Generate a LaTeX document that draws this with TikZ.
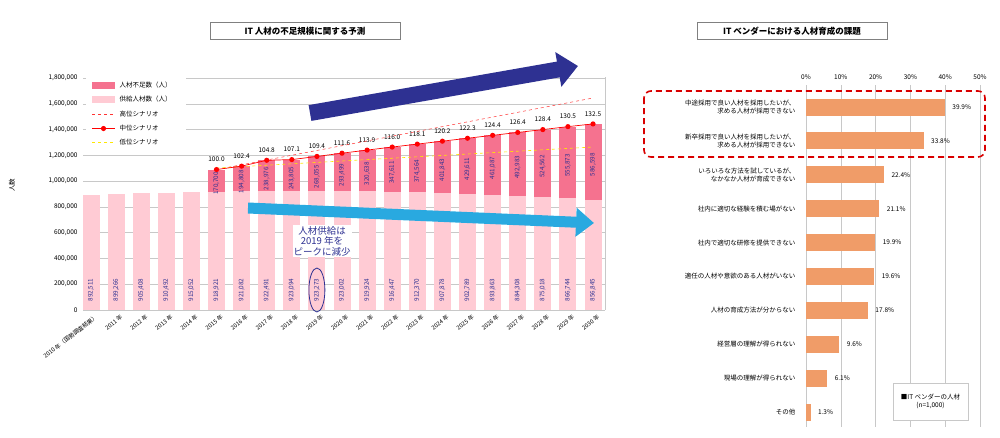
\documentclass[tikz,border=0pt]{standalone}
\usepackage{fontspec}
\setmainfont{Noto Sans CJK JP}
\usetikzlibrary{arrows.meta,calc}
\definecolor{short}{HTML}{F5728F}
\definecolor{supp}{HTML}{FFCBD4}
\definecolor{navy}{HTML}{2E3192}
\definecolor{lblue}{HTML}{29A9E0}
\definecolor{lab}{HTML}{2E3192}
\definecolor{orng}{HTML}{F09C68}
\definecolor{grid}{HTML}{C8C8C8}
\tikzset{tiny/.style={font=\fontsize{6.5}{7.5}\selectfont},
 vlab/.style={font=\fontsize{6.3}{7}\selectfont,text=lab,rotate=90,inner sep=0},
 ttl/.style={draw=gray,line width=0.6pt,font=\fontsize{8.5}{9}\selectfont\bfseries,inner sep=3pt,minimum width=190pt,minimum height=17pt}}
\begin{document}
\begin{tikzpicture}[x=1pt,y=-1pt]
\useasboundingbox[fill=white] (0,0) rectangle (1000,437);
% titles
\node[ttl] (t1) at (305,31) {IT 人材の不足規模に関する予測};
\node[ttl] (t2) at (792,31) {IT ベンダーにおける人材育成の課題};
% left grid
\foreach \k/\t in {0/0,200/{200,000},400/{400,000},600/{600,000},800/{800,000},1000/{1,000,000},1200/{1,200,000},1400/{1,400,000},1600/{1,600,000},1800/{1,800,000}}{
 \draw[grid,line width=0.5pt] (83,{310-\k*0.1289}) -- (605,{310-\k*0.1289});
 \node[tiny,anchor=east] (yt\k) at (81,{310-\k*0.1289}) {\t};}
\draw[grid] (605,77) -- (605,310);
\node[tiny,rotate=90] (ylab) at (12,185) {人数};
% supply bars
\foreach \i/\s/\st/\yl in {0/892.511/{892,511}/{2010 年（国勢調査結果）},1/899.266/{899,266}/2011 年,2/905.408/{905,408}/2012 年,3/910.492/{910,492}/2013 年,4/915.052/{915,052}/2014 年,5/918.921/{918,921}/2015 年,6/921.082/{921,082}/2016 年,7/922.491/{922,491}/2017 年,8/923.094/{923,094}/2018 年,9/923.273/{923,273}/2019 年,10/923.002/{923,002}/2020 年,11/919.924/{919,924}/2021 年,12/916.447/{916,447}/2022 年,13/912.370/{912,370}/2023 年,14/907.878/{907,878}/2024 年,15/902.789/{902,789}/2025 年,16/893.863/{893,863}/2026 年,17/884.308/{884,308}/2027 年,18/875.018/{875,018}/2028 年,19/866.744/{866,744}/2029 年,20/856.845/{856,845}/2030 年}{
 \pgfmathsetmacro\xc{91+25.1*\i}
 \fill[supp] (\xc-8.5,310) rectangle (\xc+8.5,{310-\s*0.1289});
 \node[vlab] (s\i) at (\xc,290) {\st};
 \node[font=\fontsize{5.8}{6.5}\selectfont,rotate=38,anchor=north east,inner sep=0.5pt] (xl\i) at (\xc+4,313) {\yl};}
\draw[grid] (83,310) -- (605,310);
% shortage bars
\foreach \i/\s/\d/\dt/\ix in {5/918.921/170.700/{170,700}/100.0,6/921.082/194.808/{194,808}/102.4,7/922.491/238.976/{238,976}/104.8,8/923.094/243.805/{243,805}/107.1,9/923.273/268.055/{268,055}/109.4,10/923.002/293.499/{293,499}/111.6,11/919.924/320.638/{320,638}/113.9,12/916.447/347.611/{347,611}/116.0,13/912.370/374.564/{374,564}/118.1,14/907.878/401.843/{401,843}/120.2,15/902.789/429.611/{429,611}/122.3,16/893.863/461.087/{461,087}/124.4,17/884.308/492.983/{492,983}/126.4,18/875.018/524.562/{524,562}/128.4,19/866.744/555.873/{555,873}/130.5,20/856.845/586.598/{586,598}/132.5}{
 \pgfmathsetmacro\xc{91+25.1*\i}
 \pgfmathsetmacro\yb{310-\s*0.1289}
 \pgfmathsetmacro\yt{310-(\s+\d)*0.1289}
 \fill[short] (\xc-8.5,\yb) rectangle (\xc+8.5,\yt);
 \node[vlab] (d\i) at (\xc,{(\yb+\yt)/2+3}) {\dt};
 \coordinate (m\i) at (\xc,\yt);
 \node[tiny,inner sep=1pt] (ix\i) at (\xc,\yt-10) {\ix};}
% scenarios
\coordinate (h2) at (593,98);
\coordinate (l1) at (216.5,168);
\coordinate (l2) at (593,147);
\draw[red!80,dashed,line width=0.5pt] (m5) -- (h2);
\draw[yellow!90!orange,dashed,line width=0.6pt] (l1) -- (l2);
\draw[red,line width=0.7pt] (m5) \foreach \j in {6,...,20}{ -- (m\j)};
\foreach \j in {5,...,20}{\fill[red] (m\j) circle (2.6);}
% legend
\fill[white] (86,77) rectangle (186,147);
\fill[short] (92,82) rectangle (115,89);
\node[tiny,anchor=west] (lg1) at (116,85.5) {人材不足数（人）};
\fill[supp] (92,96) rectangle (115,103);
\node[tiny,anchor=west] (lg2) at (116,99.5) {供給人材数（人）};
\draw[red!80,dashed] (92,114) -- (115,114);
\node[tiny,anchor=west] (lg3) at (116,114) {高位シナリオ};
\draw[red,line width=0.7pt] (92,128.5) -- (115,128.5);
\fill[red] (103.5,128.5) circle (2.6);
\node[tiny,anchor=west] (lg4) at (116,128.5) {中位シナリオ};
\draw[yellow!90!orange,dashed,line width=0.6pt] (92,142) -- (115,142);
\node[tiny,anchor=west] (lg5) at (116,142) {低位シナリオ};
% arrows
\coordinate (a1) at (310,113);
\coordinate (a2) at (578,66);
\draw[navy,line width=16pt,-{Triangle[length=20pt,width=34pt]}] (a1) -- (a2);
\coordinate (b1) at (248,208);
\coordinate (b2) at (594,223);
\draw[lblue,line width=11pt,-{Triangle[length=18pt,width=28pt]}] (b1) -- (b2);
\node[fill=white,inner sep=1pt,text=navy,align=center,font=\fontsize{9.5}{10.5}\selectfont] (call) at (322,241) {人材供給は\\2019 年を\\ピークに減少};
\draw[navy,line width=0.8pt] (s9) ellipse (8 and 22);
% right chart
\foreach \p in {0,10,20,30,40,50}{
 \draw[grid,line width=0.5pt] ({806+3.48*\p},85) -- ({806+3.48*\p},427);
 \node[tiny] (rt\p) at ({806+3.48*\p},77) {\p\%};}
\foreach \r/\v/\txt in {0/39.9/{中途採用で良い人材を採用したいが、\\求める人材が採用できない},1/33.8/{新卒採用で良い人材を採用したいが、\\求める人材が採用できない},2/22.4/{いろいろな方法を試しているが、\\なかなか人材が育成できない},3/21.1/{社内に適切な経験を積む場がない},4/19.9/{社内で適切な研修を提供できない},5/19.6/{適任の人材や意欲のある人材がいない},6/17.8/{人材の育成方法が分からない},7/9.6/{経営層の理解が得られない},8/6.1/{現場の理解が得られない},9/1.3/{その他}}{
 \pgfmathsetmacro\yc{107+33.9*\r}
 \fill[orng] (806,\yc-8.5) rectangle ({806+3.48*\v},\yc+8.5);
 \node[tiny,anchor=west] (rv\r) at ({806+3.48*\v+4},\yc) {\v\%};
 \node[tiny,anchor=east,align=right] (rl\r) at (799,\yc) {\txt};}
\draw[red!85!black,dashed,line width=1.6pt,dash pattern=on 6pt off 4pt,rounded corners=7pt] (644,91) rectangle (985,157);
\node[draw=grid,fill=white,tiny,align=center,minimum width=75pt,minimum height=37pt] (leg2) at (930.5,401.5) {■IT ベンダーの人材\\(n=1,000)};
\end{tikzpicture}
\end{document}
